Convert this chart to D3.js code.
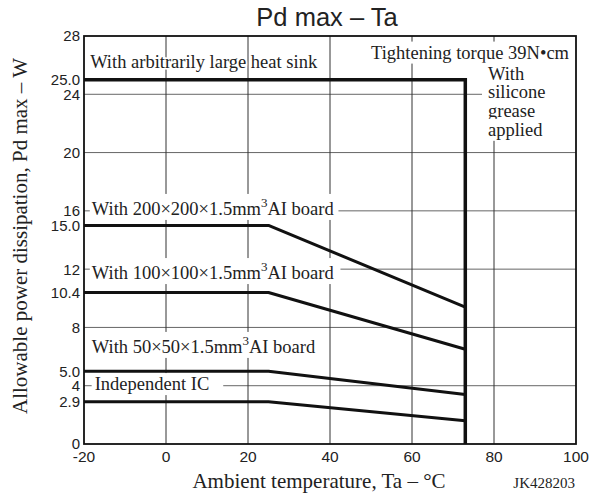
<!DOCTYPE html>
<html>
<head>
<meta charset="utf-8">
<script src="https://cdn.jsdelivr.net/npm/d3@7"></script>
<style>
  body { margin: 0; background: #fff; }
  svg { display: block; }
</style>
</head>
<body>
<div id="chart"></div>
<script>
// Pd max - Ta derating chart

// data
var xTicks = [-20, 0, 20, 40, 60, 80, 100];
var xGrid = [0, 20, 40, 60, 80];
var yTicks = [0, 2.9, 4, 5.0, 8, 10.4, 12, 15.0, 16, 20, 24, 25.0, 28];
var yTickLabels = ["0", "2.9", "4", "5.0", "8", "10.4", "12", "15.0", "16", "20", "24", "25.0", "28"];
var yGrid = [4, 8, 12, 16, 20, 24];

var temps = [-20, 25, 73];
var board200 = [15.0, 15.0, 9.4];
var board100 = [10.4, 10.4, 6.5];
var board50 = [5.0, 5.0, 3.4];
var independentIC = [2.9, 2.9, 1.6];
var heatSinkTemps = [-20, 73, 73];
var heatSink = [25.0, 25.0, 0];

var width = 592, height = 499;
var svg = d3.select("#chart").append("svg")
    .attr("width", width).attr("height", height);

var x = d3.scaleLinear().domain([-20, 100]).range([84, 576]);
var y = d3.scaleLinear().domain([0, 28]).range([444, 36]);

var sans = "'Liberation Sans', Arial, sans-serif";
var serif = "'Liberation Serif', 'Times New Roman', serif";

// grid
var grid = svg.append("g");
grid.selectAll(".hgrid").data(yGrid).enter().append("line")
    .attr("x1", x(-20)).attr("x2", function(d){ return d == 24 ? 482 : x(100); })
    .attr("y1", function(d){ return y(d); }).attr("y2", function(d){ return y(d); })
    .attr("stroke", "#666").attr("stroke-width", 1);
grid.selectAll(".vgrid").data(xGrid).enter().append("line")
    .attr("x1", function(d){ return x(d); }).attr("x2", function(d){ return x(d); })
    .attr("y1", y(0)).attr("y2", y(28))
    .attr("stroke", "#333").attr("stroke-width", 1);

// annotations (white box behind text breaks the grid)
var notes = svg.append("g").attr("font-family", serif).attr("font-size", 18.5).attr("fill", "#222");

function boxed(t, padL, padR) {
  var b = t.node().getBBox();
  notes.insert("rect", function(){ return t.node(); })
    .attr("x", b.x - padL).attr("y", b.y - 1)
    .attr("width", b.width + padL + padR).attr("height", b.height + 2)
    .attr("fill", "#fff");
}

function boardLabel(size, yv) {
  var t = notes.append("text").attr("x", x(-18.1)).attr("y", y(yv));
  t.append("tspan").text("With " + size + "×" + size + "×1.5mm");
  t.append("tspan").attr("dy", -8).attr("font-size", 13).text("3");
  t.append("tspan").attr("dy", 8).text("AI board");
  return t;
}

boxed(boardLabel(200, 15.72), 2, 4);
boxed(boardLabel(100, 11.32), 2, 6);
boxed(boardLabel(50, 6.25), 2, 4);
var ind = notes.append("text").attr("x", x(-17.4)).attr("y", y(3.7)).text("Independent IC");
boxed(ind, 3, 14);

var torque = notes.append("text").attr("x", 569).attr("y", y(26.45))
    .attr("text-anchor", "end").text("Tightening torque 39N•cm");
boxed(torque, 3, 3);

["With", "silicone", "grease", "applied"].forEach(function(s, i){
  var t = notes.append("text").attr("x", 488).attr("y", y(25.0) + i * 18.7).text(s);
  boxed(t, 6, 3);
});

notes.append("text").attr("x", x(-18.5)).attr("y", y(25.8))
    .attr("stroke", "#fff").attr("stroke-width", 3).attr("paint-order", "stroke")
    .text("With arbitrarily large heat sink");

// curves
var line = d3.line().x(function(d){ return x(d[0]); }).y(function(d){ return y(d[1]); });
var curves = [board200, board100, board50, independentIC].map(function(s){
  return temps.map(function(t, i){ return [t, s[i]]; });
});
svg.append("g").selectAll("path").data(curves).enter().append("path")
    .attr("d", line).attr("fill", "none").attr("stroke", "#111")
    .attr("stroke-width", 3).attr("stroke-linejoin", "round");
svg.append("path")
    .datum(heatSinkTemps.map(function(t, i){ return [t, heatSink[i]]; }))
    .attr("d", line).attr("fill", "none").attr("stroke", "#111").attr("stroke-width", 3.5);

// frame
svg.append("rect").attr("x", x(-20)).attr("y", y(28))
    .attr("width", x(100) - x(-20)).attr("height", y(0) - y(28))
    .attr("fill", "none").attr("stroke", "#111").attr("stroke-width", 1.8);

// tick labels
svg.append("g").selectAll("text").data(yTicks).enter().append("text")
    .attr("x", 80).attr("y", function(d){ return y(d); }).attr("dy", "0.36em")
    .attr("text-anchor", "end").attr("font-family", sans).attr("font-size", 15).attr("fill", "#222")
    .text(function(d, i){ return yTickLabels[i]; });
svg.append("g").selectAll("text").data(xTicks).enter().append("text")
    .attr("x", function(d){ return x(d); }).attr("y", 462)
    .attr("text-anchor", "middle").attr("font-family", sans).attr("font-size", 15.5).attr("fill", "#222")
    .text(function(d){ return d; });

// titles
svg.append("text").attr("x", 327).attr("y", 26).attr("text-anchor", "middle")
    .attr("font-family", sans).attr("font-size", 25.5).attr("fill", "#222").text("Pd max – Ta");
svg.append("text").attr("x", 319).attr("y", 488).attr("text-anchor", "middle")
    .attr("font-family", serif).attr("font-size", 21).attr("fill", "#222")
    .text("Ambient temperature, Ta – °C");
svg.append("text").attr("transform", "translate(27,236) rotate(-90)").attr("text-anchor", "middle")
    .attr("font-family", serif).attr("font-size", 21).attr("fill", "#222")
    .text("Allowable power dissipation, Pd max – W");
svg.append("text").attr("x", 575).attr("y", 488).attr("text-anchor", "end")
    .attr("font-family", serif).attr("font-size", 15).attr("fill", "#222").text("JK428203");
</script>
</body>
</html>
